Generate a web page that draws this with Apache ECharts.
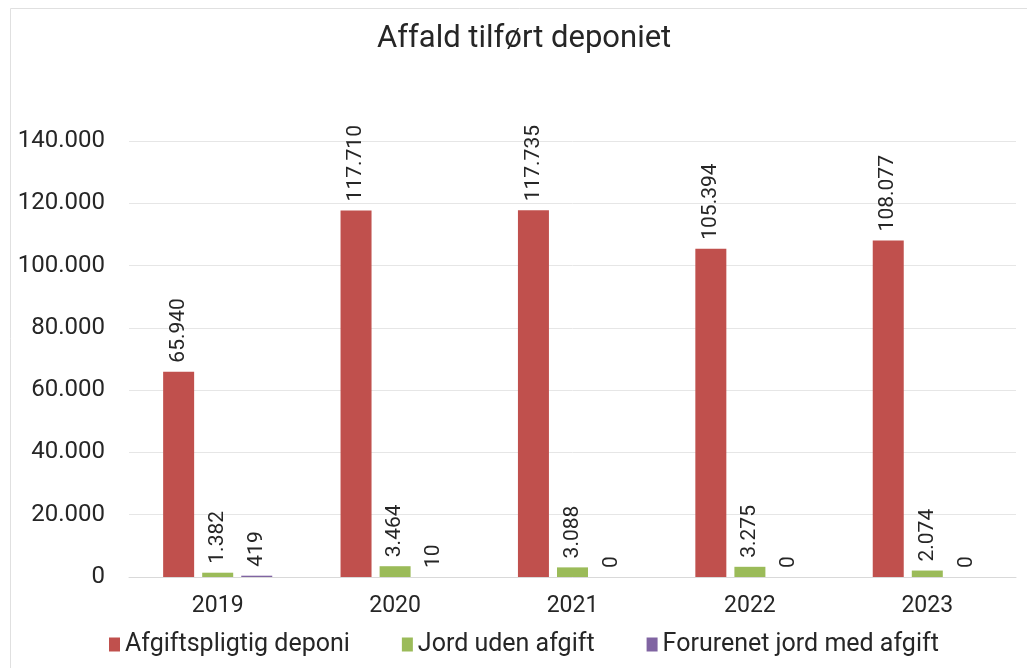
<!DOCTYPE html>
<html>
<head>
<meta charset="utf-8">
<script src="https://cdn.jsdelivr.net/npm/echarts@6/dist/echarts.min.js"></script>
<style>
  html, body { margin: 0; padding: 0; background: #fff; }
  #main { width: 1027px; height: 668px; }
</style>
</head>
<body>
<div id="main"></div>
<script>
// data
var years = ['2019', '2020', '2021', '2022', '2023'];
var afgiftspligtig = [65940, 117710, 117735, 105394, 108077];
var jordUden = [1382, 3464, 3088, 3275, 2074];
var forurenet = [419, 10, 0, 0, 0];
var seriesNames = ['Afgiftspligtig deponi', 'Jord uden afgift', 'Forurenet jord med afgift'];
var colors = ['#C0504D', '#9BBB59', '#8064A2'];

var FONT = 'Roboto';

// thousands separator with dots, as in the source
function fmt(v) {
  return String(v).replace(/\B(?=(\d{3})+(?!\d))/g, '.');
}

var chart = echarts.init(document.getElementById('main'));

function makeSeries(name, data, color) {
  return {
    name: name,
    type: 'bar',
    data: data,
    barWidth: 31,
    barGap: '26%',
    itemStyle: { color: color },
    label: {
      show: true,
      position: 'top',
      rotate: 90,
      align: 'left',
      verticalAlign: 'middle',
      distance: 9,
      fontFamily: FONT,
      fontSize: 21,
      color: '#262626',
      formatter: function (p) { return fmt(p.value); }
    }
  };
}

var option = {
  backgroundColor: '#fff',
  animation: false,
  color: colors,
  title: {
    text: 'Affald tilført deponiet',
    left: 372,
    top: 19,
    textStyle: { fontFamily: FONT, fontSize: 31, fontWeight: 'normal', color: '#262626' }
  },
  graphic: [{
    type: 'rect',
    shape: { x: 10.5, y: 8.5, width: 1030, height: 680 },
    style: { fill: 'none', stroke: '#e0e0e0', lineWidth: 1 },
    silent: true
  }],
  legend: {
    bottom: 6,
    left: 104,
    itemWidth: 11,
    itemHeight: 14,
    itemGap: 52,
    icon: 'rect',
    textStyle: { fontFamily: FONT, fontSize: 25, color: '#262626' },
    data: seriesNames
  },
  grid: { left: 129, right: 11, top: 141, bottom: 91, containLabel: false },
  xAxis: {
    type: 'category',
    data: years,
    axisTick: { show: false },
    axisLine: { lineStyle: { color: '#d9d9d9' } },
    axisLabel: { fontFamily: FONT, fontSize: 23, color: '#262626', margin: 18 }
  },
  yAxis: {
    type: 'value',
    min: 0,
    max: 140000,
    interval: 20000,
    axisLine: { show: false },
    axisTick: { show: false },
    splitLine: { lineStyle: { color: '#e6e6e6' } },
    axisLabel: {
      fontFamily: FONT,
      fontSize: 24,
      color: '#262626',
      margin: 24,
      formatter: function (v) { return fmt(v); }
    }
  },
  series: [
    makeSeries(seriesNames[0], afgiftspligtig, colors[0]),
    makeSeries(seriesNames[1], jordUden, colors[1]),
    makeSeries(seriesNames[2], forurenet, colors[2])
  ]
};

chart.setOption(option);
</script>
</body>
</html>
